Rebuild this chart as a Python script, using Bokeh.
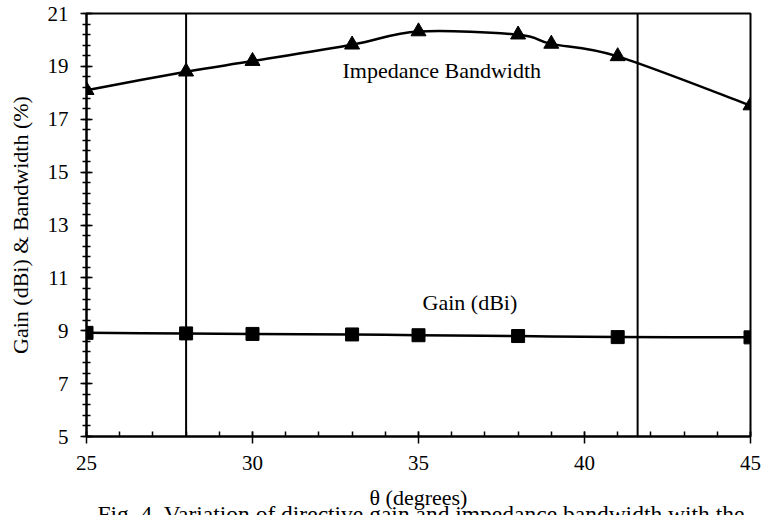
import numpy as np
from bokeh.plotting import figure
from bokeh.layouts import column
from bokeh.models import Range1d, FixedTicker, Span, Label
from bokeh.embed import file_html
from bokeh.resources import INLINE

# ---- data ----
theta_bw = [25, 28, 30, 33, 35, 38, 39, 41, 45]
bandwidth = [18.1, 18.8, 19.2, 19.82, 20.32, 20.2, 19.85, 19.38, 17.52]
theta_gain = [25, 28, 30, 33, 35, 38, 41, 45]
gain = [8.92, 8.9, 8.88, 8.86, 8.83, 8.8, 8.76, 8.75]
marker_lines = [28, 41.6]
x_major = [25, 30, 35, 40, 45]
y_major = [5, 7, 9, 11, 13, 15, 17, 19, 21]
x_title = "θ (degrees)"
y_title = "Gain (dBi) & Bandwidth (%)"
caption = "Fig. 4. Variation of directive gain and impedance bandwidth with the"

FONT = "Liberation Serif"
LEFT, RIGHT = 86, 12
X0, X1 = 25, 45


def smooth_segments(xs, ys):
    xs = np.asarray(xs, float)
    ys = np.asarray(ys, float)
    n = len(xs)
    px = np.concatenate([[xs[0]], xs, [xs[-1]]])
    py = np.concatenate([[ys[0]], ys, [ys[-1]]])
    x0, y0, x1, y1, cx0, cy0, cx1, cy1 = ([] for _ in range(8))
    for i in range(n - 1):
        a, b, c, d = i, i + 1, i + 2, i + 3
        x0.append(px[b]); y0.append(py[b])
        x1.append(px[c]); y1.append(py[c])
        cx0.append(px[b] + (px[c] - px[a]) / 6.0)
        cy0.append(py[b] + (py[c] - py[a]) / 6.0)
        cx1.append(px[c] - (px[d] - px[b]) / 6.0)
        cy1.append(py[c] - (py[d] - py[b]) / 6.0)
    return dict(x0=x0, y0=y0, x1=x1, y1=y1, cx0=cx0, cy0=cy0, cx1=cx1, cy1=cy1)


p = figure(width=762, height=480, output_backend="svg", toolbar_location=None,
           x_range=Range1d(X0, X1), y_range=Range1d(5, 21),
           min_border_left=LEFT, min_border_right=RIGHT, min_border_top=13,
           min_border_bottom=44)
p.background_fill_color = "white"
p.border_fill_color = "white"
p.outline_line_color = "black"
p.outline_line_width = 2
p.xgrid.visible = False
p.ygrid.visible = False

# axes
p.xaxis.ticker = FixedTicker(ticks=x_major, minor_ticks=list(range(25, 46)))
p.yaxis.ticker = FixedTicker(ticks=y_major,
                             minor_ticks=[round(5 + 0.4 * i, 2) for i in range(41)])
for ax in (p.xaxis[0], p.yaxis[0]):
    ax.axis_line_color = "black"
    ax.axis_line_width = 2
    ax.major_tick_line_color = "black"
    ax.minor_tick_line_color = "black"
    ax.major_tick_line_width = 1.5
    ax.minor_tick_line_width = 1.5
    ax.major_label_text_font = FONT
    ax.major_label_text_font_size = "21px"
    ax.major_label_text_color = "black"
    ax.axis_label_text_font = FONT
    ax.axis_label_text_font_size = "22px"
    ax.axis_label_text_font_style = "normal"
    ax.axis_label_text_color = "black"

p.xaxis.major_tick_in = 5
p.xaxis.major_tick_out = 7
p.xaxis.minor_tick_in = 5
p.xaxis.minor_tick_out = 0
p.xaxis.major_label_standoff = 12

p.yaxis.major_tick_in = 6
p.yaxis.major_tick_out = 6
p.yaxis.minor_tick_in = 4
p.yaxis.minor_tick_out = 4
p.yaxis.major_label_standoff = 12
p.yaxis.axis_label = y_title
p.yaxis.axis_label_standoff = 12

# vertical reference lines
for loc in marker_lines:
    p.add_layout(Span(location=loc, dimension="height", line_color="black",
                      line_width=2))

# smoothed curves
p.bezier(line_color="black", line_width=2.5, **smooth_segments(theta_bw, bandwidth))
p.bezier(line_color="black", line_width=2.5, **smooth_segments(theta_gain, gain))

p.scatter(theta_bw, bandwidth, marker="triangle", size=15,
          fill_color="black", line_color="black")
p.scatter(theta_gain, gain, marker="square", size=13,
          fill_color="black", line_color="black")

# series annotations
p.add_layout(Label(x=35.7, y=18.84, text="Impedance Bandwidth", text_align="center",
                   text_baseline="middle", text_font=FONT, text_font_size="22px",
                   text_color="black"))
p.add_layout(Label(x=36.55, y=10.05, text="Gain (dBi)", text_align="center",
                   text_baseline="middle", text_font=FONT, text_font_size="22px",
                   text_color="black"))

# bottom strip: x-axis title and the (cropped) figure caption
H2 = 35
p2 = figure(width=762, height=H2, output_backend="svg", toolbar_location=None,
            x_range=Range1d(X0, X1), y_range=Range1d(H2, 0),
            x_axis_type=None, y_axis_type=None,
            min_border_left=LEFT, min_border_right=RIGHT, min_border_top=0,
            min_border_bottom=0)
p2.outline_line_color = None
p2.background_fill_color = "white"
p2.border_fill_color = "white"
p2.xgrid.visible = False
p2.ygrid.visible = False
p2.add_layout(Label(x=(X0 + X1) / 2, y=17, text=x_title,
                    text_align="center", text_baseline="middle", text_font=FONT,
                    text_font_size="22px", text_color="black"))
p2.add_layout(Label(x=25.33, y=20.5, text=caption, text_align="left",
                    text_baseline="top", text_font=FONT, text_font_size="23.5px",
                    text_color="black"))

layout = column(p, p2, spacing=0)
open("out.html", "w").write(file_html(layout, INLINE))
